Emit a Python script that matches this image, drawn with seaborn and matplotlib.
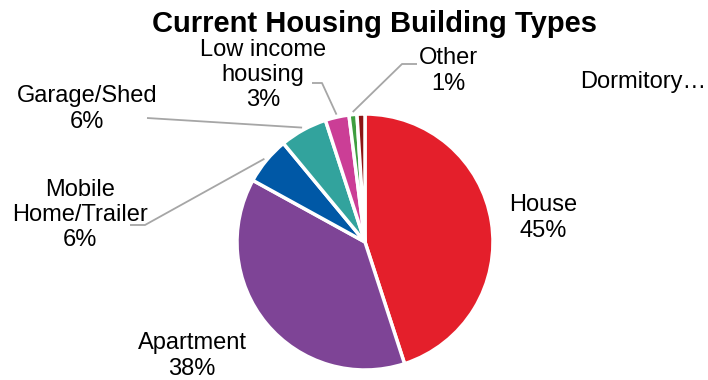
import numpy as np
import matplotlib
matplotlib.use("Agg")
import matplotlib.pyplot as plt
import seaborn as sns

# Survey shares of current housing building types (percent)
categories = ["House", "Apartment", "Mobile\nHome/Trailer", "Garage/Shed",
              "Low income\nhousing", "Other", "Dormitory"]
shares = [45, 38, 6, 6, 3, 1, 1]
colors = ["#E41F2B", "#7E4496", "#0058A6", "#32A39D",
          "#CB3E96", "#3E9E3F", "#8C1515"]

sns.set_theme(style="white")
plt.rcParams["font.family"] = ["Liberation Sans", "DejaVu Sans"]

W, H = 708, 380
CX, CY, R = 365, 242, 128  # pie centre and radius in pixels


def px(x, y):
    """Pixel position (origin top-left) -> data coordinates of the pie axes."""
    return ((x - CX) / R, (CY - y) / R)


fig = plt.figure(figsize=(W / 100, H / 100), dpi=100)
ax = fig.add_axes([0, 0, 1, 1])

wedges, _ = ax.pie(shares, colors=colors, startangle=90, counterclock=False,
                   radius=1, center=(0, 0),
                   wedgeprops=dict(edgecolor="white", linewidth=2.5))
ax.set_xlim(-CX / R, (W - CX) / R)
ax.set_ylim(-(H - CY) / R, CY / R)
ax.set_aspect("equal")
ax.axis("off")

# Label text and placement
label_text = [f"{c}\n{s}%" for c, s in zip(categories, shares)]
label_text[-1] = "Dormitory…"
label_pos = [(543, 218), (192, 356), (80, 215), (87, 109),
             (263, 75), (448, 71), (643, 82)]

for txt, (x, y) in zip(label_text, label_pos):
    ax.text(*px(x, y), txt, ha="center", va="center", fontsize=17,
            linespacing=1.2, color="black")

# Leader lines: elbow points on the label side, ending on the wedge rim
leaders = {2: [(130, 225), (145, 225)],
           3: [(147, 118)],
           4: [(312, 83), (322, 83)],
           5: [(417, 64), (402, 64)]}
for i, pts in leaders.items():
    w = wedges[i]
    mid = np.deg2rad((w.theta1 + w.theta2) / 2)
    xs = [px(*p)[0] for p in pts] + [1.02 * np.cos(mid)]
    ys = [px(*p)[1] for p in pts] + [1.02 * np.sin(mid)]
    ax.plot(xs, ys, color="#A6A6A6", lw=1.3, solid_capstyle="butt")

ax.text(*px(374, 24), "Current Housing Building Types", ha="center",
        va="center", fontsize=21, fontweight="bold", color="black")

fig.savefig("out.png", dpi=100, facecolor="white")
